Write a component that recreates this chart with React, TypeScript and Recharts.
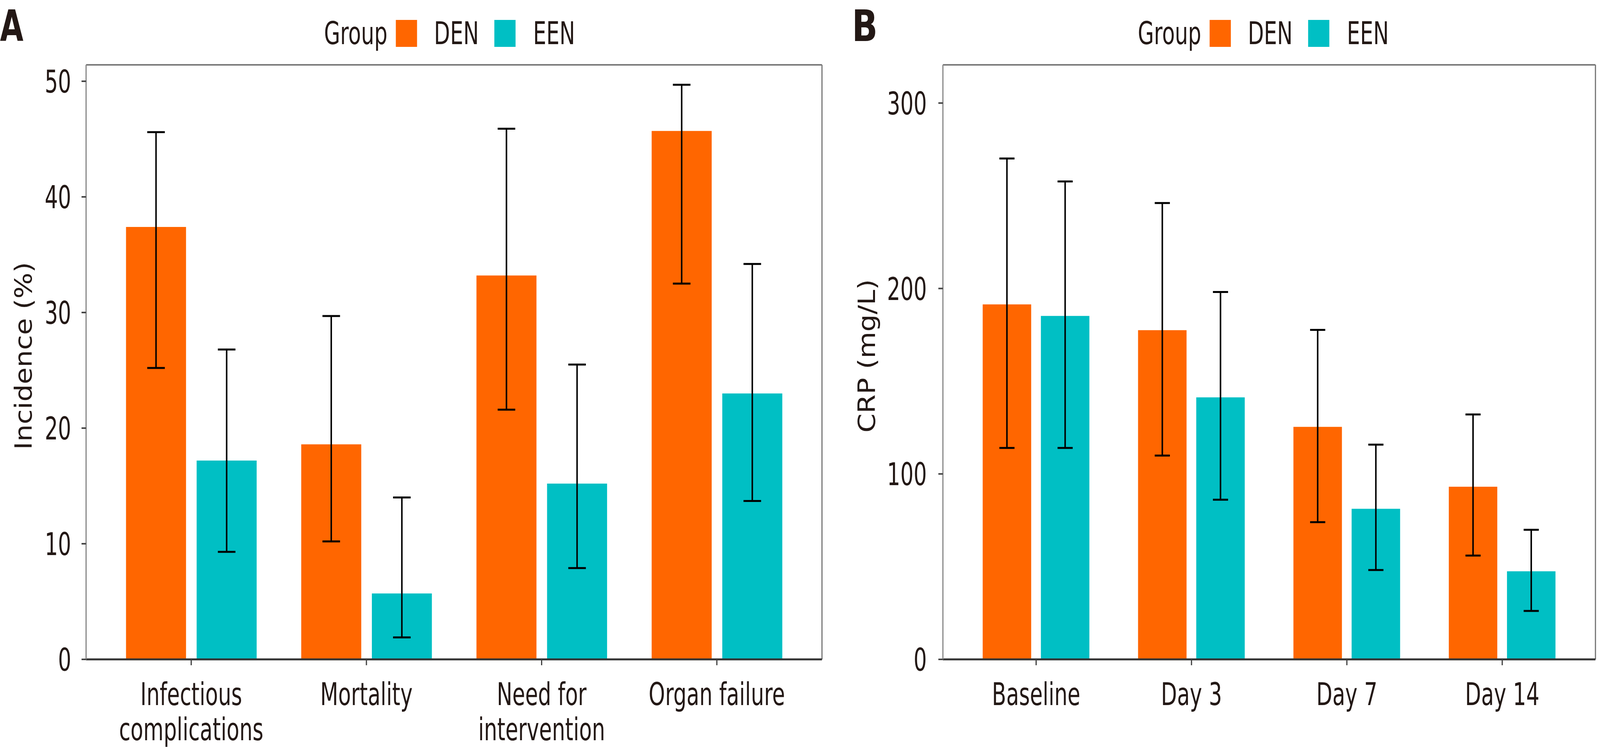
import { Bar, BarChart, CartesianGrid, ErrorBar, Label, Legend, XAxis, YAxis } from 'recharts';

const FONT = "'DejaVu Sans', Verdana, sans-serif";
const INK = '#231815';
const SQUEEZE = 0.86;
const TICK_FONT = 80;
const TITLE_FONT = 78;

// the reference is 5279 px wide; the browser only shows 4096, so the layout is squeezed to fit
const PAGE_WIDTH = 5279;
const VIEW_WIDTH = 4096;
const HEIGHT = 1920;

const groups = ['DEN', 'EEN'];
const groupColors = ['#FF6600', '#00BFC4'];

// Panel A: incidence of outcomes (%)
const outcomeLabels = [['Infectious', 'complications'], ['Mortality'], ['Need for', 'intervention'], ['Organ failure']];
const outcomeDen = [37.4, 18.6, 33.2, 45.7];
const outcomeDenCi = [[25.2, 45.6], [10.2, 29.7], [21.6, 45.9], [32.5, 49.7]];
const outcomeEen = [17.2, 5.7, 15.2, 23.0];
const outcomeEenCi = [[9.3, 26.8], [1.9, 14.0], [7.9, 25.5], [13.7, 34.2]];
const incidenceTicks = [0, 10, 20, 30, 40, 50];

// Panel B: CRP over time (mg/L)
const timepoints = [['Baseline'], ['Day 3'], ['Day 7'], ['Day 14']];
const crpDen = [191.4, 177.5, 125.4, 93.1];
const crpDenCi = [[114.0, 270.1], [109.9, 246.1], [74.0, 177.7], [56.0, 132.1]];
const crpEen = [185.2, 141.3, 81.2, 47.5];
const crpEenCi = [[114.0, 257.7], [86.1, 198.1], [48.2, 115.8], [26.1, 69.9]];
const crpTicks = [0, 100, 200, 300];

const buildRows = (labels, den, denCi, een, eenCi) =>
  labels.map((lines, i) => ({
    name: lines.join('\n'),
    DEN: den[i],
    DENerr: [den[i] - denCi[i][0], denCi[i][1] - den[i]],
    EEN: een[i],
    EENerr: [een[i] - eenCi[i][0], eenCi[i][1] - een[i]],
  }));

const PLOT_TOP = 166;
const PLOT_BOTTOM = 1688;

const squeezeText = (x, y) => `translate(${x},${y}) scale(${SQUEEZE},1)`;

const XTick = ({ x, payload }) => {
  const lines = String(payload.value).split('\n');
  return (
    <g>
      {lines.map((line, i) => (
        <text
          key={line}
          transform={squeezeText(x, 1805 + i * 90)}
          textAnchor="middle"
          fill={INK}
          fontSize={TICK_FONT}
          fontFamily={FONT}
        >
          {line}
        </text>
      ))}
    </g>
  );
};

const makeYTick = (right) => ({ y, payload }) => (
  <text
    transform={squeezeText(right, y + 29)}
    textAnchor="end"
    fill={INK}
    fontSize={TICK_FONT}
    fontFamily={FONT}
  >
    {payload.value}
  </text>
);

const renderLegend = () => (
  <svg width={900} height={140} style={{ display: 'block' }}>
    <text transform={squeezeText(0, 113)} fill={INK} fontSize={TICK_FONT} fontFamily={FONT}>
      Group
    </text>
    {groups.map((g, i) => (
      <g key={g}>
        <rect x={237 + i * 325} y={51} width={70} height={69} fill={groupColors[i]} />
        <text transform={squeezeText(363 + i * 327, 113)} fill={INK} fontSize={TICK_FONT} fontFamily={FONT}>
          {g}
        </text>
      </g>
    ))}
  </svg>
);

const Panel = ({ rows, left, width, plotLeft, plotRight, yMax, ticks, yLabel, yLabelX, yTickRight, legendLeft, barSize, barGap, cap }) => {
  const plotWidth = plotRight - plotLeft;
  const pad = plotWidth / 42;
  return (
    <div style={{ position: 'absolute', left, top: 0 }}>
      <BarChart
        width={width}
        height={HEIGHT}
        data={rows}
        margin={{ top: PLOT_TOP, right: width - plotRight, bottom: 0, left: 0 }}
        barSize={barSize}
        barGap={barGap}
        style={{ fontFamily: FONT }}
      >
        <CartesianGrid
          stroke="#7a7a7a"
          strokeWidth={4}
          horizontalCoordinatesGenerator={({ offset }) => [offset.top]}
          verticalCoordinatesGenerator={({ offset }) => [offset.left + offset.width]}
        />
        <XAxis
          dataKey="name"
          interval={0}
          padding={{ left: pad, right: pad }}
          height={HEIGHT - PLOT_BOTTOM}
          axisLine={{ stroke: '#333333', strokeWidth: 5 }}
          tickLine={{ stroke: '#444444', strokeWidth: 4 }}
          tickSize={15}
          tick={XTick}
        />
        <YAxis
          width={plotLeft}
          domain={[0, yMax]}
          ticks={ticks}
          interval={0}
          axisLine={{ stroke: '#8a8a8a', strokeWidth: 4 }}
          tickLine={{ stroke: '#444444', strokeWidth: 4 }}
          tickSize={15}
          tick={makeYTick(yTickRight)}
          label={
            <Label
              content={() => (
                <text
                  transform={`translate(${yLabelX},911) rotate(-90) scale(0.9,1)`}
                  textAnchor="middle"
                  fill={INK}
                  fontSize={TITLE_FONT}
                  fontFamily={FONT}
                >
                  {yLabel}
                </text>
              )}
            />
          }
        />
        <Legend
          layout="horizontal"
          align="center"
          verticalAlign="middle"
          wrapperStyle={{ top: 0, left: legendLeft, width: 900, height: 140 }}
          content={renderLegend}
        />
        {groups.map((g, i) => (
          <Bar key={g} dataKey={g} name={g} fill={groupColors[i]} isAnimationActive={false}>
            <ErrorBar dataKey={`${g}err`} width={cap} strokeWidth={5} stroke="#000000" direction="y" isAnimationActive={false} />
          </Bar>
        ))}
      </BarChart>
    </div>
  );
};

export default function App() {
  const incidenceRows = buildRows(outcomeLabels, outcomeDen, outcomeDenCi, outcomeEen, outcomeEenCi);
  const crpRows = buildRows(timepoints, crpDen, crpDenCi, crpEen, crpEenCi);
  return (
    <div style={{ position: 'relative', width: VIEW_WIDTH, height: HEIGHT, overflow: 'hidden', background: '#ffffff' }}>
      <style>{'body{margin:0;background:#fff}'}</style>
      <div
        style={{
          position: 'absolute',
          left: 0,
          top: 0,
          width: PAGE_WIDTH,
          height: HEIGHT,
          transform: `scaleX(${VIEW_WIDTH / PAGE_WIDTH})`,
          transformOrigin: '0 0',
        }}
      >
        <Panel
          rows={incidenceRows}
          left={0}
          width={2740}
          plotLeft={284}
          plotRight={2712}
          yMax={51.42}
          ticks={incidenceTicks}
          yLabel="Incidence (%)"
          yLabelX={105}
          yTickRight={235}
          legendLeft={1069}
          barSize={198}
          barGap={35}
          cap={29}
        />
        <Panel
          rows={crpRows}
          left={2740}
          width={2539}
          plotLeft={371}
          plotRight={2524}
          yMax={320.6}
          ticks={crpTicks}
          yLabel="CRP (mg/L)"
          yLabelX={147}
          yTickRight={318}
          legendLeft={1014}
          barSize={160}
          barGap={32}
          cap={25}
        />
        <svg width={PAGE_WIDTH} height={140} style={{ position: 'absolute', left: 0, top: 0, pointerEvents: 'none' }}>
          <text transform="translate(0,105) scale(0.9,1)" fontSize={111} fontWeight="bold" fontFamily={FONT} fill={INK}>
            A
          </text>
          <text transform="translate(2811,105)" fontSize={111} fontWeight="bold" fontFamily={FONT} fill={INK}>
            B
          </text>
        </svg>
      </div>
    </div>
  );
}
